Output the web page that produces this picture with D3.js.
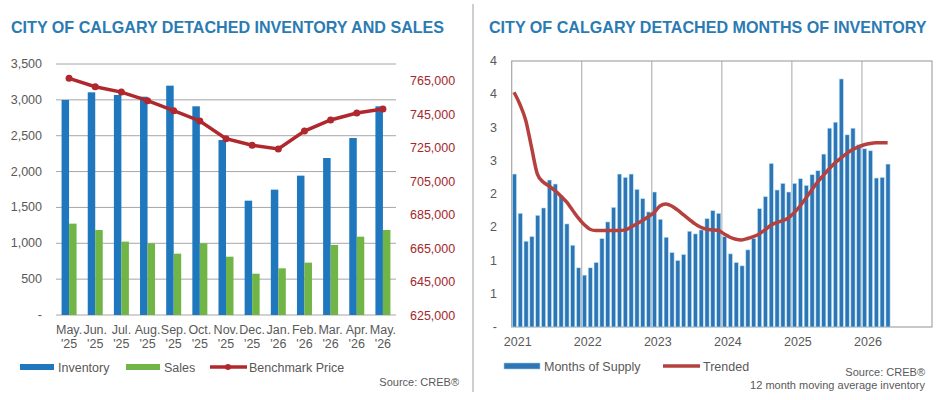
<!DOCTYPE html>
<html>
<head>
<meta charset="utf-8">
<script src="https://cdn.jsdelivr.net/npm/d3@7"></script>
<style>
  body { margin: 0; background: #fff; }
  svg { font-family: "Liberation Sans", Arial, sans-serif; }
  .title { font-weight: bold; font-size: 16.1px; fill: #2b7bb3; }
  .lbl { font-size: 12.5px; fill: #595959; }
</style>
</head>
<body>
<svg id="chart" width="943" height="400"></svg>
<script>
// left chart data
var months = ["May.", "Jun.", "Jul.", "Aug.", "Sep.", "Oct.", "Nov.", "Dec.", "Jan.", "Feb.", "Mar.", "Apr.", "May."];
var years = ["'25", "'25", "'25", "'25", "'25", "'25", "'25", "'25", "'26", "'26", "'26", "'26", "'26"];
var inventory = [2998, 3105, 3068, 3044, 3198, 2910, 2440, 1594, 1748, 1943, 2189, 2468, 2910];
var sales = [1274, 1185, 1023, 1000, 855, 1000, 813, 576, 651, 730, 976, 1092, 1185];
var benchmark = [766000, 761000, 757800, 752700, 746700, 740600, 730000, 726100, 723900, 734600, 741200, 745300, 747700];
var leftTicks = [0, 500, 1000, 1500, 2000, 2500, 3000, 3500];
var rightTicks = [625000, 645000, 665000, 685000, 705000, 725000, 745000, 765000];

// right chart data, monthly from Jan 2021
var supply = [2.30, 1.71, 1.29, 1.36, 1.68, 1.79, 2.21, 2.15, 1.98, 1.55, 1.23, 0.89,
              0.78, 0.89, 0.97, 1.33, 1.58, 1.80, 2.30, 2.25, 2.30, 2.07, 1.93, 1.73,
              2.03, 1.62, 1.35, 1.12, 1.00, 1.09, 1.44, 1.40, 1.46, 1.63, 1.75, 1.71,
              1.36, 1.10, 0.97, 0.92, 1.16, 1.33, 1.78, 1.96, 2.46, 2.06, 2.16, 2.03,
              2.16, 2.23, 2.13, 2.29, 2.35, 2.60, 2.99, 3.08, 3.73, 2.89, 2.99, 2.74,
              2.68, 2.65, 2.24, 2.25, 2.45];
var trended = [3.53, 3.35, 3.11, 2.70, 2.30, 2.18, 2.12, 2.05, 1.97, 1.88, 1.76, 1.64,
               1.54, 1.47, 1.45, 1.45, 1.45, 1.45, 1.45, 1.46, 1.50, 1.55, 1.60, 1.66,
               1.72, 1.82, 1.85, 1.82, 1.76, 1.69, 1.62, 1.55, 1.50, 1.47, 1.46, 1.45,
               1.40, 1.35, 1.32, 1.31, 1.33, 1.36, 1.40, 1.46, 1.53, 1.57, 1.60, 1.64,
               1.72, 1.82, 1.94, 2.06, 2.18, 2.28, 2.38, 2.47, 2.54, 2.61, 2.67, 2.71,
               2.74, 2.76, 2.77, 2.77, 2.77];
var yearLabels = ["2021", "2022", "2023", "2024", "2025", "2026"];
var supplyTicks = [0, 0.5, 1, 1.5, 2, 2.5, 3, 3.5, 4];

var BLUE = "#1f77bd", GREEN = "#70b545", RED = "#b0282e", GRID = "#a6a6a6";
var svg = d3.select("#chart");

// ---------- left chart ----------
var L = { left: 56, right: 396, top: 64, bottom: 315 };
svg.append("text").attr("class", "title").attr("x", 11).attr("y", 33)
    .text("CITY OF CALGARY DETACHED INVENTORY AND SALES");

var x = d3.scaleBand().domain(d3.range(months.length)).range([L.left, L.right]);
var y = d3.scaleLinear().domain([0, 3500]).range([L.bottom, L.top]);
var y2 = d3.scaleLinear().domain([625000, 765000]).range([L.bottom, 80]);

svg.append("g").selectAll("line").data(leftTicks).join("line")
    .attr("x1", L.left).attr("x2", L.right)
    .attr("y1", function (d) { return y(d); }).attr("y2", function (d) { return y(d); })
    .attr("stroke", GRID).attr("stroke-width", 1);

svg.append("g").selectAll("text").data(leftTicks).join("text").attr("class", "lbl")
    .attr("x", 42).attr("y", function (d) { return y(d) + 4; }).attr("text-anchor", "end")
    .text(function (d) { return d === 0 ? "-" : d3.format(",")(d); });

svg.append("g").selectAll("text").data(rightTicks).join("text").attr("class", "lbl")
    .attr("x", 410).attr("y", function (d) { return y2(d) + 5; }).style("fill", "#a3282c")
    .text(function (d) { return d3.format(",")(d); });

var bw = 7.5;
svg.append("g").selectAll("rect").data(inventory).join("rect")
    .attr("x", function (d, i) { return x(i) + x.bandwidth() / 2 - bw; })
    .attr("y", function (d) { return y(d); }).attr("width", bw)
    .attr("height", function (d) { return L.bottom - y(d); }).attr("fill", BLUE);
svg.append("g").selectAll("rect").data(sales).join("rect")
    .attr("x", function (d, i) { return x(i) + x.bandwidth() / 2; })
    .attr("y", function (d) { return y(d); }).attr("width", bw)
    .attr("height", function (d) { return L.bottom - y(d); }).attr("fill", GREEN);

var bline = d3.line().x(function (d, i) { return x(i) + x.bandwidth() / 2; }).y(function (d) { return y2(d); });
svg.append("path").datum(benchmark).attr("d", bline).attr("fill", "none")
    .attr("stroke", RED).attr("stroke-width", 3.5);
svg.append("g").selectAll("circle").data(benchmark).join("circle")
    .attr("cx", function (d, i) { return x(i) + x.bandwidth() / 2; })
    .attr("cy", function (d) { return y2(d); }).attr("r", 3.5).attr("fill", RED);

var xl = svg.append("g").selectAll("text").data(months).join("text").attr("class", "lbl")
    .attr("text-anchor", "middle").attr("x", function (d, i) { return x(i) + x.bandwidth() / 2; });
xl.append("tspan").attr("y", 334).text(function (d) { return d; });
xl.append("tspan").attr("y", 348).attr("x", function (d, i) { return x(i) + x.bandwidth() / 2; })
    .text(function (d, i) { return years[i]; });

function legendBar(g, x0, yy, color, label) {
    g.append("rect").attr("x", x0).attr("y", yy - 3).attr("width", 34).attr("height", 6).attr("fill", color);
    g.append("text").attr("class", "lbl").attr("x", x0 + 38).attr("y", yy + 4.5).text(label);
}
var lg = svg.append("g");
legendBar(lg, 20, 367, BLUE, "Inventory");
legendBar(lg, 126, 367, GREEN, "Sales");
lg.append("line").attr("x1", 210).attr("x2", 247).attr("y1", 367).attr("y2", 367)
    .attr("stroke", RED).attr("stroke-width", 3.5);
lg.append("circle").attr("cx", 228).attr("cy", 367).attr("r", 3).attr("fill", RED);
lg.append("text").attr("class", "lbl").attr("x", 249).attr("y", 371.5).text("Benchmark Price");
svg.append("text").attr("class", "lbl").attr("x", 459).attr("y", 386).attr("text-anchor", "end")
    .style("font-size", "11px").text("Source: CREB®");

// divider
svg.append("line").attr("x1", 473).attr("x2", 473).attr("y1", 4).attr("y2", 392)
    .attr("stroke", "#bfbfbf").attr("stroke-width", 1.5);

// ---------- right chart ----------
var R = { left: 511.7, right: 932, top: 61, bottom: 327 };
svg.append("text").attr("class", "title").attr("x", 489).attr("y", 33)
    .text("CITY OF CALGARY DETACHED MONTHS OF INVENTORY");

var xt = d3.scaleLinear().domain([0, 72]).range([R.left, R.right]);
var ys = d3.scaleLinear().domain([0, 4]).range([R.bottom, R.top]);

svg.append("rect").attr("x", R.left).attr("y", R.top).attr("width", R.right - R.left)
    .attr("height", R.bottom - R.top).attr("fill", "none").attr("stroke", GRID).attr("stroke-width", 1.2);
svg.append("g").selectAll("line").data(d3.range(1, 6)).join("line")
    .attr("x1", function (d) { return xt(d * 12); }).attr("x2", function (d) { return xt(d * 12); })
    .attr("y1", R.top).attr("y2", R.bottom).attr("stroke", GRID).attr("stroke-width", 1);

svg.append("g").selectAll("text").data(supplyTicks).join("text").attr("class", "lbl")
    .attr("x", 497).attr("y", function (d) { return ys(d) + 4; }).attr("text-anchor", "end")
    .text(function (d) { return d === 0 ? "-" : Math.round(d); });

svg.append("g").selectAll("text").data(yearLabels).join("text").attr("class", "lbl")
    .attr("x", function (d, i) { return xt(i * 12) + 6; }).attr("y", 346).attr("text-anchor", "middle")
    .text(function (d) { return d; });

var mw = xt(1) - xt(0);
svg.append("g").selectAll("rect").data(supply).join("rect")
    .attr("x", function (d, i) { return xt(i) + 0.6; })
    .attr("y", function (d) { return ys(d); }).attr("width", mw * 0.72)
    .attr("height", function (d) { return R.bottom - ys(d); })
    .attr("fill", "#2e75b6").attr("stroke", "#bfe6f5").attr("stroke-width", 0.6);

var tline = d3.line().curve(d3.curveMonotoneX)
    .x(function (d, i) { return xt(i) + mw * 0.4; }).y(function (d) { return ys(d); });
svg.append("path").datum(trended).attr("d", tline).attr("fill", "none")
    .attr("stroke", "#b5413f").attr("stroke-width", 3.5);

var rg = svg.append("g");
rg.append("rect").attr("x", 504).attr("y", 363).attr("width", 36).attr("height", 6)
    .attr("fill", "#2e75b6").attr("stroke", "#9fc5e8").attr("stroke-width", 0.6);
rg.append("text").attr("class", "lbl").attr("x", 544).attr("y", 370.5).text("Months of Supply");
rg.append("line").attr("x1", 663).attr("x2", 700).attr("y1", 366).attr("y2", 366)
    .attr("stroke", "#b5413f").attr("stroke-width", 3.5);
rg.append("text").attr("class", "lbl").attr("x", 703).attr("y", 370.5).text("Trended");
svg.append("text").attr("class", "lbl").attr("x", 925).attr("y", 376).attr("text-anchor", "end")
    .style("font-size", "11px").text("Source: CREB®");
svg.append("text").attr("class", "lbl").attr("x", 925).attr("y", 389).attr("text-anchor", "end")
    .style("font-size", "11px").text("12 month moving average inventory");
</script>
</body>
</html>
